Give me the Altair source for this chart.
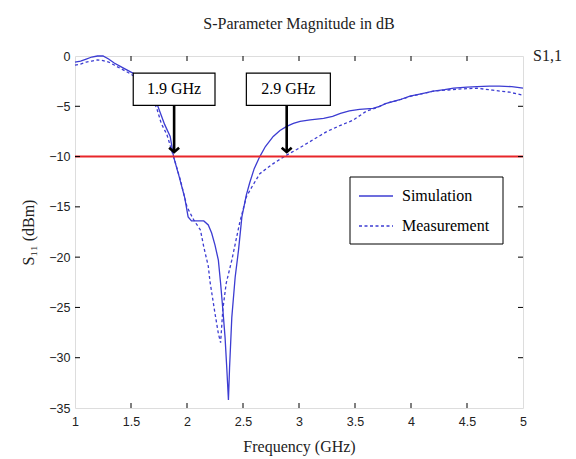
import altair as alt
import pandas as pd

# ---------------- data ----------------
sim_freq = [1.0, 1.05, 1.1, 1.15, 1.2, 1.25, 1.3, 1.35, 1.4, 1.45, 1.5, 1.55, 1.6, 1.65, 1.7,
            1.74, 1.8, 1.85, 1.88, 1.93, 1.98, 2.01, 2.04, 2.09, 2.15, 2.19, 2.22, 2.25, 2.28,
            2.30, 2.32, 2.34, 2.355, 2.37, 2.38, 2.40, 2.43, 2.46, 2.49, 2.53, 2.56, 2.6, 2.65,
            2.7, 2.77, 2.83, 2.89, 2.95, 3.01, 3.1, 3.22, 3.3, 3.37, 3.45, 3.54, 3.66, 3.72,
            3.78, 3.9, 3.99, 4.1, 4.2, 4.3, 4.38, 4.5, 4.59, 4.7, 4.79, 4.9, 5.0]
sim_db = [-0.6, -0.5, -0.3, -0.1, 0.0, 0.0, -0.3, -0.7, -1.0, -1.3, -1.6, -1.9, -2.4, -3.1, -4.2,
          -5.0, -6.8, -8.0, -10.0, -12.0, -14.1, -16.0, -16.4, -16.4, -16.4, -16.8, -17.6, -18.8, -20.3,
          -22.6, -25.2, -28.0, -31.0, -34.2, -31.0, -26.0, -22.0, -19.3, -16.0, -13.8, -12.6, -11.2, -10.0,
          -9.0, -8.0, -7.4, -7.0, -6.7, -6.5, -6.35, -6.2, -6.0, -5.7, -5.45, -5.3, -5.2, -5.0,
          -4.7, -4.35, -4.0, -3.75, -3.5, -3.35, -3.2, -3.1, -3.05, -3.0, -3.0, -3.05, -3.2]

meas_freq = [1.0, 1.05, 1.1, 1.15, 1.2, 1.25, 1.3, 1.35, 1.4, 1.45, 1.5, 1.55, 1.6, 1.65, 1.7,
             1.73, 1.77, 1.82, 1.88, 1.94, 2.0, 2.06, 2.12, 2.15, 2.19, 2.205, 2.25, 2.28, 2.30,
             2.32, 2.35, 2.40, 2.47, 2.53, 2.58, 2.65, 2.77, 2.89, 2.98, 3.07, 3.19, 3.25, 3.37,
             3.48, 3.6, 3.7, 3.78, 3.9, 4.0, 4.2, 4.41, 4.59, 4.73, 4.88, 5.0]
meas_db = [-0.9, -0.8, -0.6, -0.5, -0.4, -0.45, -0.6, -0.9, -1.2, -1.5, -1.8, -2.2, -2.7, -3.4, -4.5,
           -5.2, -6.7, -7.8, -10.0, -12.3, -15.0, -16.3, -17.3, -19.0, -20.9, -22.4, -25.6, -27.6, -28.5,
           -25.2, -22.6, -20.3, -16.6, -14.0, -13.0, -11.7, -10.7, -9.85, -9.3, -8.7, -7.9, -7.5, -6.9,
           -6.4, -5.5, -5.1, -4.7, -4.35, -4.0, -3.5, -3.3, -3.2, -3.4, -3.6, -3.9]

x_ticks = [1, 1.5, 2, 2.5, 3, 3.5, 4, 4.5, 5]
y_ticks = [0, -5, -10, -15, -20, -25, -30, -35]

threshold_db = -10
marker_freq = [1.885, 2.89]
marker_labels = ["1.9 GHz", "2.9 GHz"]
box_left = [1.52, 2.53]
box_right = [2.25, 3.28]
box_top = -1.7
box_bottom = -4.9
arrow_tip = -9.55

legend_labels = ["Simulation", "Measurement"]
chart_title = "S-Parameter Magnitude in dB"
corner_label = "S1,1"

# ---------------- styling ----------------
W, H = 448, 352
BLUE = "#3c3cd2"
RED = "#e8262a"
SERIF = "Liberation Serif"
SANS = "Liberation Sans"

xs = alt.Scale(domain=[1, 5], nice=False, zero=False)
ys = alt.Scale(domain=[-35, 0], nice=False, zero=False)

sim_df = pd.DataFrame({"f": sim_freq, "db": sim_db})
meas_df = pd.DataFrame({"f": meas_freq, "db": meas_db})
mark_df = pd.DataFrame({"f": marker_freq, "label": marker_labels, "x1": box_left, "x2": box_right,
                        "top": [box_top] * 2, "bot": [box_bottom] * 2, "tip": [arrow_tip] * 2,
                        "ymid": [(box_top + box_bottom) / 2] * 2,
                        "xmid": [(a + b) / 2 for a, b in zip(box_left, box_right)]})
xt_df = pd.DataFrame({"t": x_ticks[1:-1]})
yt_df = pd.DataFrame({"t": y_ticks[1:-1]})

x_axis = alt.Axis(values=x_ticks, format="~g", title="Frequency (GHz)", labelFlush=False,
                  grid=False, ticks=False, domain=False, labelFont=SANS, labelFontSize=12.5,
                  labelColor="#222", labelPadding=7, titleFont=SERIF, titleFontSize=16,
                  titleFontWeight="normal", titleColor="#222", titlePadding=11)
y_axis = alt.Axis(values=y_ticks, format="~g", title="S₁₁ (dBm)", labelFlush=False,
                  grid=False, ticks=False, domain=False, labelFont=SANS, labelFontSize=12.5,
                  labelColor="#222", labelPadding=5, titleFont=SERIF, titleFontSize=16,
                  titleFontWeight="normal", titleColor="#222", titlePadding=12)


def X(field):
    return alt.X(field, scale=xs, axis=x_axis)


def Y(field):
    return alt.Y(field, scale=ys, axis=y_axis)


sim = alt.Chart(sim_df).mark_line(color=BLUE, strokeWidth=1.3).encode(x=X("f:Q"), y=Y("db:Q"))
meas = alt.Chart(meas_df).mark_line(color=BLUE, strokeWidth=1.3, strokeDash=[3, 2.5]).encode(
    x=X("f:Q"), y=Y("db:Q"))

red = alt.Chart(pd.DataFrame({"db": [threshold_db]})).mark_rule(color=RED, strokeWidth=2).encode(
    y=Y("db:Q"))

boxes = alt.Chart(mark_df).mark_rect(fill="white", stroke="black", strokeWidth=1.2).encode(
    x=X("x1:Q"), x2="x2:Q", y=Y("top:Q"), y2="bot:Q")
box_text = alt.Chart(mark_df).mark_text(font=SERIF, fontSize=16, color="black").encode(
    x=X("xmid:Q"), y=Y("ymid:Q"), text="label:N")
shaft = alt.Chart(mark_df).mark_rule(color="black", strokeWidth=2.6).encode(
    x=X("f:Q"), y=Y("bot:Q"), y2="tip:Q")
head = alt.Chart(mark_df).mark_point(shape="M -1 -0.85 L 0 0 L 1 -0.85", filled=False, color="black",
                                     strokeWidth=2.6, size=100, opacity=1).encode(
    x=X("f:Q"), y=Y("tip:Q"))

# inner tick marks (MATLAB style) on all four sides
xt_bot = alt.Chart(xt_df).mark_rule(color="black", strokeWidth=1).encode(
    x=X("t:Q"), y=alt.value(H), y2=alt.value(H - 5))
xt_top = alt.Chart(xt_df).mark_rule(color="black", strokeWidth=1).encode(
    x=X("t:Q"), y=alt.value(0), y2=alt.value(5))
yt_left = alt.Chart(yt_df).mark_rule(color="black", strokeWidth=1).encode(
    y=Y("t:Q"), x=alt.value(0), x2=alt.value(5))
yt_right = alt.Chart(yt_df).mark_rule(color="black", strokeWidth=1).encode(
    y=Y("t:Q"), x=alt.value(W), x2=alt.value(W - 5))

# legend (drawn manually)
LX, LY, LW, LH = 275, 121, 153, 67
one = pd.DataFrame({"a": [0]})
leg_box = alt.Chart(one).mark_rect(fill="white", stroke="black", strokeWidth=1).encode(
    x=alt.value(LX), x2=alt.value(LX + LW), y=alt.value(LY), y2=alt.value(LY + LH))
leg_sim = alt.Chart(one).mark_rule(color=BLUE, strokeWidth=1.3).encode(
    x=alt.value(LX + 9), x2=alt.value(LX + 43), y=alt.value(LY + 19))
leg_meas = alt.Chart(one).mark_rule(color=BLUE, strokeWidth=1.3, strokeDash=[3, 2.5]).encode(
    x=alt.value(LX + 9), x2=alt.value(LX + 43), y=alt.value(LY + 49))
leg_t1 = alt.Chart(pd.DataFrame({"label": [legend_labels[0]]})).mark_text(
    font=SERIF, fontSize=16, color="black", align="left", baseline="middle").encode(
    x=alt.value(LX + 52), y=alt.value(LY + 19), text="label:N")
leg_t2 = alt.Chart(pd.DataFrame({"label": [legend_labels[1]]})).mark_text(
    font=SERIF, fontSize=16, color="black", align="left", baseline="middle").encode(
    x=alt.value(LX + 52), y=alt.value(LY + 49), text="label:N")

s11 = alt.Chart(pd.DataFrame({"t": [corner_label]})).mark_text(
    font=SERIF, fontSize=16, color="#222", align="left", baseline="middle").encode(
    x=alt.value(W + 10), y=alt.value(0), text="t:N")
title_txt = alt.Chart(pd.DataFrame({"t": [chart_title]})).mark_text(
    font=SERIF, fontSize=16, color="#222", align="center", baseline="middle").encode(
    x=alt.value(W / 2), y=alt.value(-32), text="t:N")

chart = alt.layer(
    sim, meas, red, boxes, box_text, shaft, head, xt_bot, xt_top, yt_left, yt_right,
    leg_box, leg_sim, leg_meas, leg_t1, leg_t2, s11, title_txt
).properties(
    width=W, height=H,
    autosize=alt.AutoSizeParams(type="none"),
    padding={"left": 67, "top": 48, "right": 45, "bottom": 51},
).configure_view(stroke="black", strokeWidth=1).configure(background="white")

chart.save("out.html", embed_options={"renderer": "svg", "actions": False})
